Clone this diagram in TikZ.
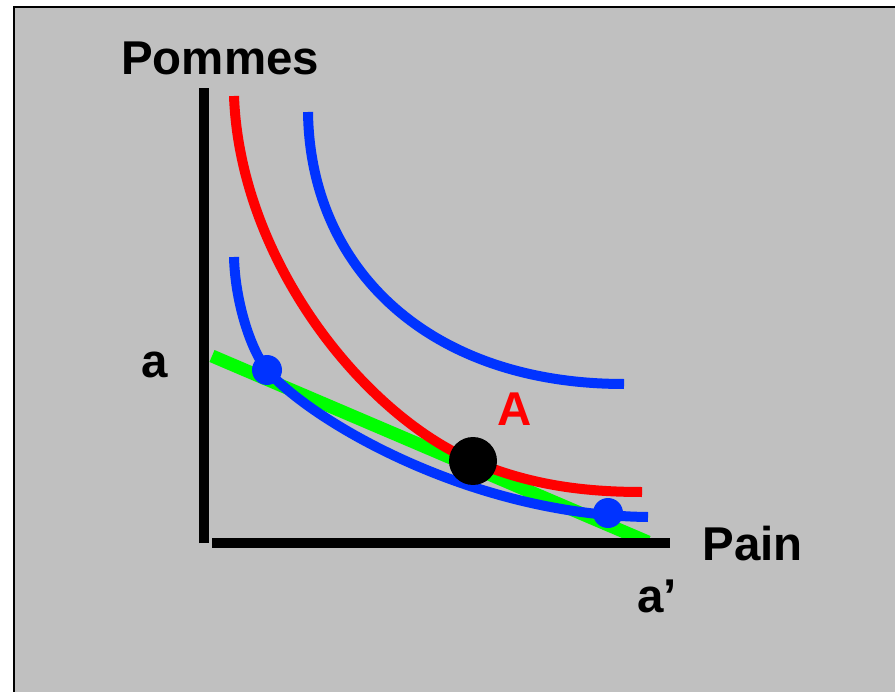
\documentclass[tikz,border=0pt]{standalone}
\usepackage{fontspec}
\setmainfont{Liberation Sans}
\usepackage{tikz}
\usetikzlibrary{positioning}
\definecolor{ecGray}{HTML}{C0C0C0}
\definecolor{ecRed}{HTML}{FF0000}
\definecolor{ecBlue}{HTML}{0033FF}
\definecolor{ecGreen}{HTML}{00FF00}
\tikzset{
  frame/.style={fill=ecGray, draw=black, line width=0.04cm},
  axisline/.style={line width=0.2cm, black},
  icurve/.style={line width=0.2cm},
  budget/.style={line width=0.26cm, ecGreen},
  dot/.style={circle, inner sep=0pt, fill=ecBlue, minimum size=0.6cm},
  optdot/.style={dot, fill=black, minimum size=0.96cm},
  lbl/.style={font=\fontsize{27}{32}\selectfont\bfseries, inner sep=0pt, anchor=base west}
}

\begin{document}
\begin{tikzpicture}[x=0.02cm, y=-0.02cm]
  \useasboundingbox (0,0) rectangle (895,692);
  \fill[white] (0,0) rectangle (895,692);
  \filldraw[frame] (14,7) rectangle (900,700);

  % budget line
  \coordinate (bl) at (212,356);
  \coordinate (br) at (648,542);
  \draw[budget] (bl) -- (br);

  % indifference curves
  \coordinate (A) at (473,461);
  \coordinate (P1) at (267,370);
  \coordinate (P2) at (608,513);
  \draw[icurve, ecRed] (234,96) .. controls (240,260) and (363,414) .. (A)
    .. controls (528,484.5) and (582,492) .. (642,492);
  \draw[icurve, ecBlue] (308,112) .. controls (310,270) and (430,384) .. (624,384);
  \draw[icurve, ecBlue] (234,257) .. controls (235,300) and (250,349) .. (P1)
    .. controls (310,420) and (470,515) .. (648,517);

  % axes
  \coordinate (ytop) at (204,88);
  \coordinate (ybot) at (204,543);
  \coordinate (xleft) at (212,543);
  \coordinate (xright) at (670,543);
  \draw[axisline] (ybot) -- (ytop);
  \draw[axisline] (xleft) -- (xright);

  % points
  \node[dot] (p1) at (P1) {};
  \node[dot] (p2) at (P2) {};
  \node[optdot] (optA) at (A) {};

  % labels
  \node[lbl] (pommes) at (121,75) {Pommes};
  \node[lbl] (pain) at (702,560) {Pain};
  \node[lbl] (qa) at (141,377) {a};
  \node[lbl] (qb) at (637,612) {a’};
  \node[lbl, ecRed] (labA) at (497,425) {A};
\end{tikzpicture}
\end{document}
